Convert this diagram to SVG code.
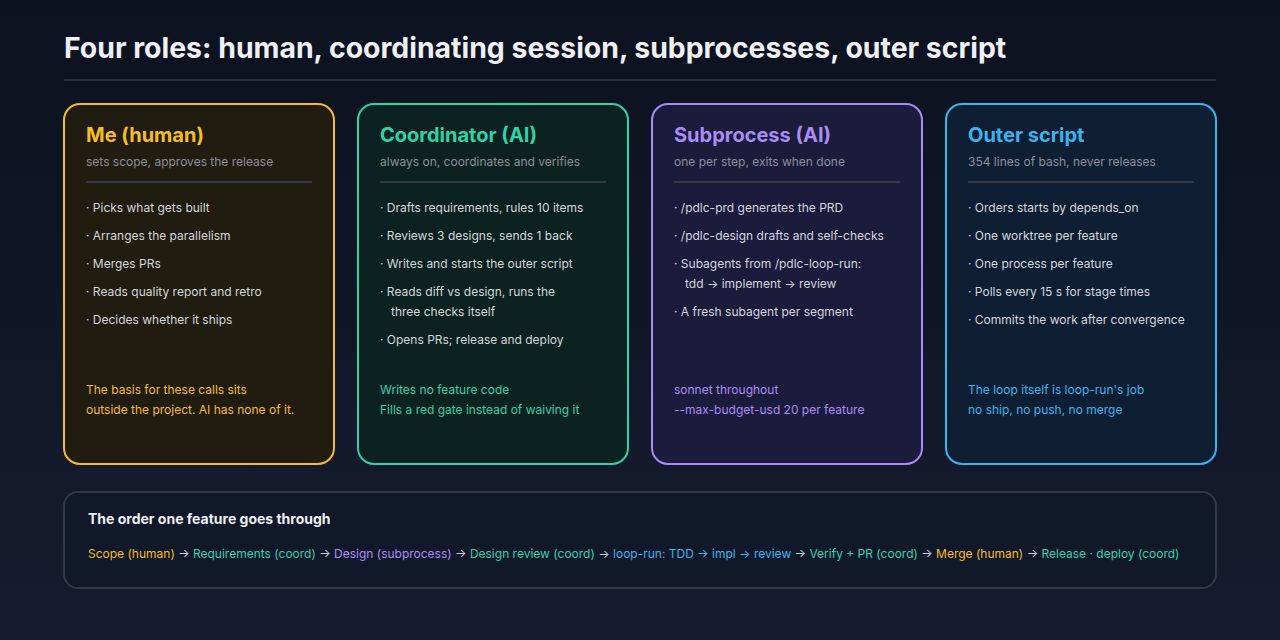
<svg xmlns="http://www.w3.org/2000/svg" width="1280" height="640" viewBox="0 0 1280 640">
<defs>
<linearGradient id="bg" x1="0" y1="0" x2="0" y2="1"><stop offset="0" stop-color="#0d1220"/><stop offset="1" stop-color="#161b2f"/></linearGradient>
<style>
text{font-family:Inter,"Noto Sans",sans-serif}
.t{font-size:20px;font-weight:700}
.s{font-size:12px;fill:#8b8f99}
.b{font-size:12px;fill:#d4d6dc}
.f{font-size:12px}
.sep{stroke:#363a44;stroke-width:2}
.y{fill:#f5bd2a}.g{fill:#2fd3a9}.p{fill:#a98cf5}.c{fill:#3bb4ee}.w{fill:#c8ccd4}
</style>
</defs>
<rect width="1280" height="640" fill="url(#bg)"/>
<text x="64" y="58" style="font-size:28.4px;font-weight:700;fill:#eef0f4">Four roles: human, coordinating session, subprocesses, outer script</text>
<line x1="64" y1="80" x2="1216" y2="80" stroke="#2a2f3d" stroke-width="2"/>
<g id="human">
<rect x="64" y="104" width="270" height="360" rx="16" fill="#211c10" stroke="#f5bd2a" stroke-width="2"/>
<text x="86" y="142" class="t y">Me (human)</text>
<text x="86" y="166" class="s">sets scope, approves the release</text>
<line x1="86" y1="182" x2="312" y2="182" class="sep"/>
<text x="86" y="212" class="b">· Picks what gets built</text>
<text x="86" y="240" class="b">· Arranges the parallelism</text>
<text x="86" y="268" class="b">· Merges PRs</text>
<text x="86" y="296" class="b">· Reads quality report and retro</text>
<text x="86" y="324" class="b">· Decides whether it ships</text>
<text x="86" y="394" class="f y">The basis for these calls sits</text>
<text x="86" y="414" class="f y">outside the project. AI has none of it.</text>
</g>
<g id="coord">
<rect x="358" y="104" width="270" height="360" rx="16" fill="#0c2220" stroke="#2fd3a9" stroke-width="2"/>
<text x="380" y="142" class="t g">Coordinator (AI)</text>
<text x="380" y="166" class="s">always on, coordinates and verifies</text>
<line x1="380" y1="182" x2="606" y2="182" class="sep"/>
<text x="380" y="212" class="b">· Drafts requirements, rules 10 items</text>
<text x="380" y="240" class="b">· Reviews 3 designs, sends 1 back</text>
<text x="380" y="268" class="b">· Writes and starts the outer script</text>
<text x="380" y="296" class="b">· Reads diff vs design, runs the</text>
<text x="391" y="316" class="b">three checks itself</text>
<text x="380" y="344" class="b">· Opens PRs; release and deploy</text>
<text x="380" y="394" class="f g">Writes no feature code</text>
<text x="380" y="414" class="f g">Fills a red gate instead of waiving it</text>
</g>
<g id="sub">
<rect x="652" y="104" width="270" height="360" rx="16" fill="#1b1c3c" stroke="#a98cf5" stroke-width="2"/>
<text x="674" y="142" class="t p">Subprocess (AI)</text>
<text x="674" y="166" class="s">one per step, exits when done</text>
<line x1="674" y1="182" x2="900" y2="182" class="sep"/>
<text x="674" y="212" class="b">· /pdlc-prd generates the PRD</text>
<text x="674" y="240" class="b">· /pdlc-design drafts and self-checks</text>
<text x="674" y="268" class="b">· Subagents from /pdlc-loop-run:</text>
<text x="685" y="288" class="b">tdd → implement → review</text>
<text x="674" y="316" class="b">· A fresh subagent per segment</text>
<text x="674" y="394" class="f p">sonnet throughout</text>
<text x="674" y="414" class="f p">--max-budget-usd 20 per feature</text>
</g>
<g id="outer">
<rect x="946" y="104" width="270" height="360" rx="16" fill="#0f1f33" stroke="#3bb4ee" stroke-width="2"/>
<text x="968" y="142" class="t c">Outer script</text>
<text x="968" y="166" class="s">354 lines of bash, never releases</text>
<line x1="968" y1="182" x2="1194" y2="182" class="sep"/>
<text x="968" y="212" class="b">· Orders starts by depends_on</text>
<text x="968" y="240" class="b">· One worktree per feature</text>
<text x="968" y="268" class="b">· One process per feature</text>
<text x="968" y="296" class="b">· Polls every 15 s for stage times</text>
<text x="968" y="324" class="b">· Commits the work after convergence</text>
<text x="968" y="394" class="f c">The loop itself is loop-run's job</text>
<text x="968" y="414" class="f c">no ship, no push, no merge</text>
</g>
<g id="order">
<rect x="64" y="492" width="1152" height="96" rx="14" fill="#111829" stroke="#323846" stroke-width="2"/>
<text x="88" y="524" style="font-size:14px;font-weight:700;fill:#eef0f4">The order one feature goes through</text>
<text x="88" y="558" class="f"><tspan class="y">Scope (human)</tspan><tspan class="w"> → </tspan><tspan class="g">Requirements (coord)</tspan><tspan class="w"> → </tspan><tspan class="p">Design (subprocess)</tspan><tspan class="w"> → </tspan><tspan class="g">Design review (coord)</tspan><tspan class="w"> → </tspan><tspan class="c">loop-run: TDD → impl → review</tspan><tspan class="w"> → </tspan><tspan class="g">Verify + PR (coord)</tspan><tspan class="w"> → </tspan><tspan class="y">Merge (human)</tspan><tspan class="w"> → </tspan><tspan class="g">Release · deploy (coord)</tspan></text>
</g>
<g id="connectors"/>
</svg>
